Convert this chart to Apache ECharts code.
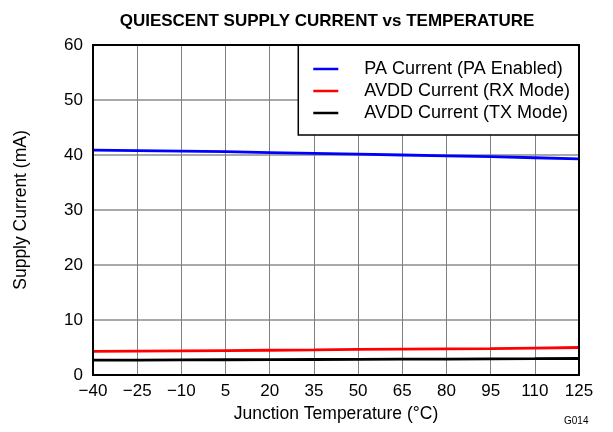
<!DOCTYPE html>
<html><head><meta charset="utf-8">
<script src="https://cdn.jsdelivr.net/npm/echarts@6/dist/echarts.min.js"></script>
<style>html,body{margin:0;padding:0;background:#fff}#c{width:613px;height:432px}</style>
</head><body><div id="c"></div>
<script>
const temps = [-40, -25, -10, 5, 20, 35, 50, 65, 80, 95, 110, 125];
const paCurrent = [40.9, 40.8, 40.7, 40.6, 40.45, 40.3, 40.15, 40.0, 39.85, 39.7, 39.5, 39.3];
const avddRx = [4.3, 4.35, 4.4, 4.45, 4.5, 4.55, 4.65, 4.7, 4.75, 4.8, 4.9, 5.0];
const avddTx = [2.7, 2.72, 2.75, 2.77, 2.8, 2.82, 2.85, 2.88, 2.9, 2.93, 2.96, 3.0];
const yTicks = [0, 10, 20, 30, 40, 50, 60];
const names = ['PA Current (PA Enabled)', 'AVDD Current (RX Mode)', 'AVDD Current (TX Mode)'];

const font = 'Liberation Sans, Arial, sans-serif';
const chart = echarts.init(document.getElementById('c'), null, {renderer: 'canvas'});
const mk = (name, data, color) => ({
  name, type: 'line', data, symbol: 'none', z: 5,
  lineStyle: {color, width: 2.8}, itemStyle: {color}
});
chart.setOption({
  animation: false,
  backgroundColor: '#fff',
  title: {text: 'QUIESCENT SUPPLY CURRENT vs TEMPERATURE', left: 322, top: 8, textAlign: 'center',
    textStyle: {fontFamily: font, fontSize: 17, fontWeight: 'bold', color: '#000'}},
  grid: {left: 93, right: 34, top: 45, bottom: 57, show: true, borderColor: '#000', borderWidth: 2, z: 10},
  legend: {
    orient: 'vertical', right: 34, top: 45,
    backgroundColor: '#fff', borderColor: '#000', borderWidth: 1.5,
    padding: [15, 9, 13, 15], itemGap: 4, itemWidth: 35, itemHeight: 2.5,
    icon: 'path://M0,0L10,0L10,1L0,1Z',
    textStyle: {fontFamily: font, fontSize: 18, color: '#000', padding: [0, 0, 0, 16]},
    data: names
  },
  xAxis: {
    type: 'category', data: temps.map(String), boundaryGap: false,
    name: 'Junction Temperature (°C)', nameLocation: 'middle', nameGap: 26,
    nameTextStyle: {fontFamily: font, fontSize: 17.5, color: '#000'},
    axisLine: {show: false}, axisTick: {show: false},
    axisLabel: {fontFamily: font, fontSize: 17, color: '#000', margin: 8, formatter: v => v.replace('-', '\u2212')},
    splitLine: {show: true, lineStyle: {color: '#808080', width: 1}}
  },
  yAxis: {
    type: 'value', min: yTicks[0], max: yTicks[yTicks.length - 1], interval: 10,
    name: 'Supply Current (mA)', nameLocation: 'middle', nameGap: 63,
    nameTextStyle: {fontFamily: font, fontSize: 17.5, color: '#000'},
    axisLine: {show: false}, axisTick: {show: false},
    axisLabel: {fontFamily: font, fontSize: 17, color: '#000', margin: 10},
    splitLine: {show: true, lineStyle: {color: '#8c8c8c', width: 1.5}}
  },
  graphic: [{type: 'text', left: 564, top: 416, style: {text: 'G014', fontFamily: font, fontSize: 10, fill: '#000'}}],
  series: [mk(names[0], paCurrent, '#0000ff'), mk(names[1], avddRx, '#ff0000'), mk(names[2], avddTx, '#000000')]
});
</script></body></html>
